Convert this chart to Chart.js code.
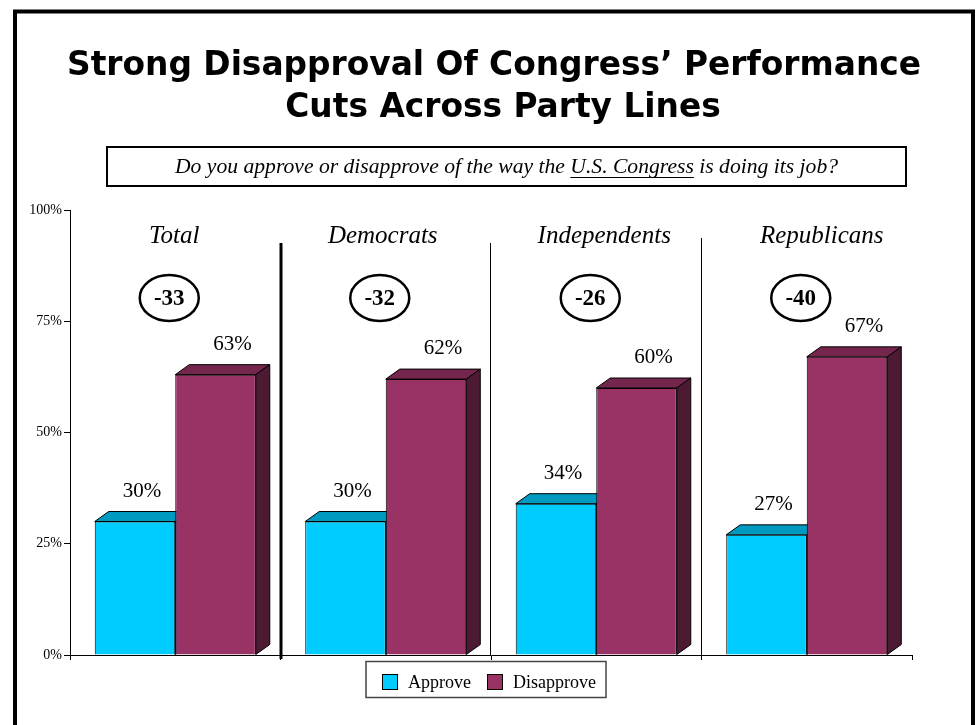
<!DOCTYPE html>
<html>
<head>
<meta charset="utf-8">
<script src="https://cdn.jsdelivr.net/npm/chart.js@4.4.1/dist/chart.umd.min.js"></script>
<style>
  html, body { margin: 0; padding: 0; background: #fff; }
  canvas { display: block; }
</style>
</head>
<body>
<canvas id="myChart" width="977" height="725"></canvas>
<script>
const groups = ['Total', 'Democrats', 'Independents', 'Republicans'];
const approve = [30, 30, 34, 27];
const disapprove = [63, 62, 60, 67];
const net = [-33, -32, -26, -40];
const seriesNames = ['Approve', 'Disapprove'];

const titleLines = ['Strong Disapproval Of Congress\u2019 Performance', 'Cuts Across Party Lines'];
const question = ['Do you approve or disapprove of the way the ', 'U.S. Congress', ' is doing its job?'];

const frontColors = ['#00CCFF', '#993366'];
const topColors = ['#0099BF', '#74264D'];
const sideColors = ['#007A99', '#4D1A33'];

const DX = 14, DY = 10;
const serif = '"Liberation Serif", "Times New Roman", serif';
// small nudges so the group names sit where they do in the original
const labelShift = [-1, -3, 8, 15];
const valueShift = [7, 17];

const deco = {
  id: 'deco',
  beforeDraw(chart) {
    const ctx = chart.ctx;
    ctx.save();
    ctx.fillStyle = '#fff';
    ctx.fillRect(0, 0, chart.width, chart.height);

    // outer frame
    ctx.strokeStyle = '#000';
    ctx.lineWidth = 4;
    ctx.beginPath();
    ctx.moveTo(15, 730);
    ctx.lineTo(15, 11.5);
    ctx.lineTo(973, 11.5);
    ctx.lineTo(973, 730);
    ctx.stroke();

    // title
    ctx.fillStyle = '#000';
    ctx.font = 'bold 34px "DejaVu Sans Condensed", "DejaVu Sans"';
    ctx.textAlign = 'center';
    ctx.textBaseline = 'alphabetic';
    const sx = 854 / ctx.measureText(titleLines[0]).width;
    ctx.save();
    ctx.translate(494, 0);
    ctx.scale(sx, 1);
    ctx.fillText(titleLines[0], 0, 75);
    ctx.restore();
    ctx.save();
    ctx.translate(503, 0);
    ctx.scale(sx, 1);
    ctx.fillText(titleLines[1], 0, 117);
    ctx.restore();

    // question box
    ctx.lineWidth = 2;
    ctx.strokeRect(107, 147, 799, 39);
    ctx.font = 'italic 20px ' + serif;
    ctx.textAlign = 'left';
    const widths = question.map(t => ctx.measureText(t).width);
    const total = widths.reduce((a, b) => a + b, 0);
    const qs = 663 / total;
    ctx.save();
    ctx.translate(506.5 - 663 / 2, 0);
    ctx.scale(qs, 1);
    let x = 0;
    question.forEach((t, i) => {
      ctx.fillText(t, x, 173);
      if (i === 1) {
        ctx.lineWidth = 1;
        ctx.beginPath();
        ctx.moveTo(x, 177.5);
        ctx.lineTo(x + widths[i], 177.5);
        ctx.stroke();
      }
      x += widths[i];
    });
    ctx.restore();
    ctx.restore();
  },
  beforeDatasetsDraw(chart) {
    const ctx = chart.ctx;
    ctx.save();
    ctx.strokeStyle = '#000';
    ctx.lineWidth = 1;
    chart.data.datasets.forEach((ds, d) => {
      chart.getDatasetMeta(d).data.forEach(bar => {
        const l = bar.x - bar.width / 2, r = bar.x + bar.width / 2;
        const t = bar.y, b = bar.base;
        ctx.fillStyle = topColors[d];
        ctx.beginPath();
        ctx.moveTo(l, t);
        ctx.lineTo(l + DX, t - DY);
        ctx.lineTo(r + DX, t - DY);
        ctx.lineTo(r, t);
        ctx.closePath();
        ctx.fill();
        ctx.stroke();
        ctx.fillStyle = sideColors[d];
        ctx.beginPath();
        ctx.moveTo(r, t);
        ctx.lineTo(r + DX, t - DY);
        ctx.lineTo(r + DX, b - DY);
        ctx.lineTo(r, b);
        ctx.closePath();
        ctx.fill();
        ctx.stroke();
      });
    });
    ctx.restore();
  },
  afterDatasetsDraw(chart) {
    const ctx = chart.ctx;
    const xs = chart.scales.x;
    const area = chart.chartArea;
    ctx.save();
    ctx.fillStyle = '#000';
    ctx.strokeStyle = '#000';

    // value labels
    ctx.font = '21px ' + serif;
    ctx.textAlign = 'center';
    chart.data.datasets.forEach((ds, d) => {
      chart.getDatasetMeta(d).data.forEach((bar, i) => {
        ctx.fillText(ds.data[i] + '%', bar.x + valueShift[d], bar.y - DY - 15);
      });
    });

    // group labels, net ellipses
    groups.forEach((g, i) => {
      const cx = xs.getPixelForValue(i);
      ctx.font = 'italic 25px ' + serif;
      ctx.fillText(g, cx + labelShift[i], area.top + 33);
      const ex = cx - 6, ey = area.top + 88;
      ctx.lineWidth = 2.5;
      ctx.beginPath();
      ctx.ellipse(ex, ey, 29.5, 23, 0, 0, Math.PI * 2);
      ctx.stroke();
      ctx.font = 'bold 23px ' + serif;
      ctx.textBaseline = 'middle';
      ctx.fillText(String(net[i]), ex, ey + 1);
      ctx.textBaseline = 'alphabetic';
    });

    // separators between groups
    const step = (area.right - area.left) / groups.length;
    [3, 1, 1].forEach((w, k) => {
      let sx = Math.round(area.left + step * (k + 1));
      if (w === 1) sx -= 0.5;
      ctx.lineWidth = w;
      ctx.beginPath();
      ctx.moveTo(sx, area.top + (k === 2 ? 28 : 33));
      ctx.lineTo(sx, area.bottom + (k === 0 ? 4 : 0));
      ctx.stroke();
    });

    // legend
    ctx.lineWidth = 1.5;
    ctx.strokeStyle = '#444';
    ctx.strokeRect(366, 661.5, 240, 36);
    ctx.font = '18px ' + serif;
    ctx.textAlign = 'left';
    const lx = [382, 487];
    seriesNames.forEach((n, k) => {
      ctx.fillStyle = frontColors[k];
      ctx.fillRect(lx[k], 674, 16, 16);
      ctx.strokeStyle = '#000';
      ctx.lineWidth = 1;
      ctx.strokeRect(lx[k] + 0.5, 674.5, 15, 15);
      ctx.fillStyle = '#000';
      ctx.fillText(n, lx[k] + 26, 688);
    });
    ctx.restore();
  }
};

const ctx = document.getElementById('myChart').getContext('2d');
new Chart(ctx, {
  type: 'bar',
  data: {
    labels: groups,
    datasets: [
      {
        label: seriesNames[0],
        data: approve,
        backgroundColor: frontColors[0],
        borderColor: '#000',
        borderWidth: 1,
      },
      {
        label: seriesNames[1],
        data: disapprove,
        backgroundColor: frontColors[1],
        borderColor: '#000',
        borderWidth: 1,
      },
    ],
  },
  options: {
    responsive: false,
    animation: false,
    categoryPercentage: 0.765,
    barPercentage: 1.0,
    layout: { padding: { left: 14, top: 210, right: 65, bottom: 0 } },
    plugins: {
      legend: { display: false },
      tooltip: { enabled: false },
    },
    scales: {
      x: {
        afterFit: (scale) => { scale.height = 70; },
        grid: { offset: true, drawOnChartArea: false, drawTicks: true, tickLength: 5, color: '#000' },
        border: { display: true, color: '#000', width: 1 },
        ticks: { display: false },
      },
      y: {
        min: 0,
        max: 100,
        afterFit: (scale) => { scale.width = 56; },
        grid: { drawOnChartArea: false, drawTicks: true, tickLength: 6, color: '#000' },
        border: { display: true, color: '#000', width: 1 },
        ticks: {
          stepSize: 25,
          padding: 2,
          color: '#000',
          font: { family: serif, size: 14 },
          callback: (v) => v + '%',
        },
      },
    },
  },
  plugins: [deco],
});
</script>
</body>
</html>
